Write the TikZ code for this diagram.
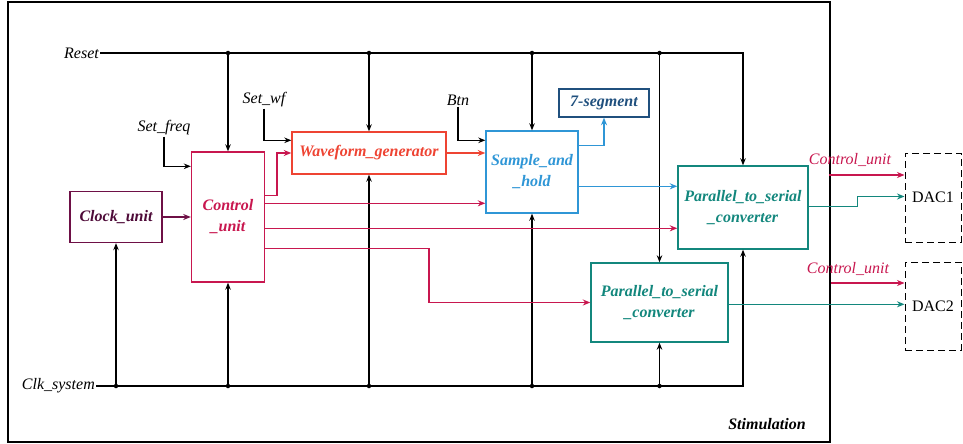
\documentclass[tikz,border=0pt]{standalone}
\usepackage{fontspec}
\setmainfont{Liberation Serif}
\usetikzlibrary{arrows.meta,calc}
\definecolor{cuc}{HTML}{C8174F}
\definecolor{ckc}{HTML}{6E1046}
\definecolor{ckt}{HTML}{4E0A38}
\definecolor{wgc}{HTML}{EE4433}
\definecolor{shc}{HTML}{2F96D6}
\definecolor{sgc}{HTML}{20507E}
\definecolor{psc}{HTML}{13877D}
\tikzset{
  blk/.style={draw, line width=1.4pt, inner sep=0pt, align=center,
    font=\fontsize{16}{21}\selectfont\bfseries\itshape},
  dacbox/.style={draw, line width=1pt, dash pattern=on 7pt off 4pt, inner sep=0pt,
    font=\fontsize{16}{19}\selectfont},
  wire/.style={line width=1.05pt, -{Stealth[length=7pt,width=5.5pt]}},
  cwire/.style={line width=1.5pt, -{Stealth[length=7.5pt,width=6pt]}},
  jdot/.style={circle, fill=black, inner sep=0pt, minimum size=4.5pt},
  lbl/.style={inner sep=1pt, font=\fontsize{16}{19}\selectfont\itshape},
}
\begin{document}
\begin{tikzpicture}[x=1pt,y=-1pt]
\useasboundingbox (0,0) rectangle (963,444);
\node[draw, line width=1.6pt, minimum width=822pt, minimum height=440pt, anchor=north west, inner sep=0pt] (frame) at (7,1) {};
\node[font=\fontsize{16}{19}\selectfont\bfseries\itshape] (stim) at (767,424) {Stimulation};

% blocks
\node[blk, ckc, text=ckt, minimum width=92pt, minimum height=51pt] (clock) at (116,217) {Clock\_unit};
\node[blk, cuc, minimum width=73pt, minimum height=130pt] (ctrl) at (228,217) {Control\\\_unit};
\node[blk, wgc, minimum width=154pt, minimum height=42pt] (wave) at (369,153) {Waveform\_generator};
\node[blk, shc, minimum width=92pt, minimum height=82pt] (samp) at (532,172) {Sample\_and\\\_hold};
\node[blk, sgc, minimum width=90pt, minimum height=28pt] (seg) at (604,103) {7-segment};
\node[blk, psc, minimum width=130pt, minimum height=83pt] (pts1) at (743,207.5) {Parallel\_to\_serial\\\_converter};
\node[blk, psc, minimum width=137pt, minimum height=79pt] (pts2) at (659.5,302.5) {Parallel\_to\_serial\\\_converter};
\node[dacbox, minimum width=56pt, minimum height=89pt] (dac1) at (933,197.5) {DAC1};
\node[dacbox, minimum width=56pt, minimum height=88pt] (dac2) at (933,306) {DAC2};

% labels
\node[lbl, anchor=east] (reset) at (100,53) {Reset};
\node[lbl, anchor=east] (clk) at (96,386) {Clk\_system};
\node[lbl] (sf) at (164,128) {Set\_freq};
\node[lbl] (swf) at (264,100) {Set\_wf};
\node[lbl] (btn) at (458,100) {Btn};
\node[lbl, text=cuc] (cul1) at (850,160) {Control\_unit};
\node[lbl, text=cuc] (cul2) at (848,269) {Control\_unit};

% reset bus
\draw[wire] (reset.east) -| (pts1.north);
\foreach \n in {ctrl,wave,samp,pts2}
  \draw[wire] (\n.north |- reset.east) node[jdot]{} -- (\n.north);

% clock bus
\draw[wire] (clk.east) -| (pts1.south);
\foreach \n in {clock,ctrl,wave,samp,pts2}
  \draw[wire] (\n.south |- clk.east) node[jdot]{} -- (\n.south);

% external inputs
\draw[wire] (sf.south) |- ($(ctrl.north west)+(0,15)$);
\draw[wire] (swf.south) |- ($(wave.north west)+(0,9)$);
\draw[wire] (btn.south) |- ($(samp.north west)+(0,10)$);

% clock to control
\draw[cwire, ckc] (clock.east) -- (ctrl.west);

% control outputs
\draw[cwire, cuc] ($(ctrl.north east)+(0,44)$) -- ++(12,0) |- (wave.west);
\draw[cwire, cuc] ($(ctrl.north east)+(0,52)$) coordinate (c2) -- (c2 -| samp.west);
\draw[cwire, cuc] ($(ctrl.north east)+(0,77)$) coordinate (c3) -- (c3 -| pts1.west);
\draw[cwire, cuc] ($(ctrl.north east)+(0,97)$) -- ++(164,0) |- (pts2.west);

% waveform to sample
\draw[cwire, wgc] (wave.east) -- (wave.east -| samp.west);

% sample outputs
\draw[cwire, shc] ($(samp.north east)+(0,15)$) -| (seg.south);
\draw[cwire, shc] ($(samp.north east)+(0,56)$) coordinate (s2) -- (s2 -| pts1.west);

% PTS outputs
\draw[cwire, psc] ($(pts1.north east)+(0,41)$) -- ++(49,0) |- ($(dac1.north west)+(0,44)$);
\draw[cwire, psc] ($(pts2.north east)+(0,42)$) coordinate (p2) -- (p2 -| dac2.west);

% control unit to DACs
\coordinate (cu1) at (829,175);
\coordinate (cu2) at (831,283);
\draw[cwire, cuc] (cu1) -- (cu1 -| dac1.west);
\draw[cwire, cuc] (cu2) -- (cu2 -| dac2.west);
\end{tikzpicture}
\end{document}
